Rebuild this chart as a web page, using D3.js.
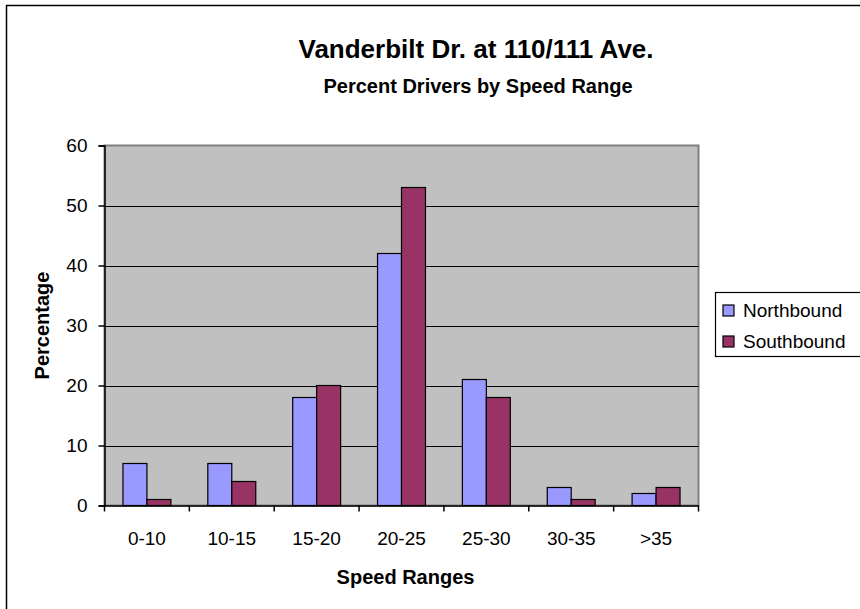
<!DOCTYPE html>
<html>
<head>
<meta charset="utf-8">
<script src="https://cdn.jsdelivr.net/npm/d3@7"></script>
<style>
  body { margin: 0; background: #fff; }
  svg { font-family: "Liberation Sans", Arial, sans-serif; }
</style>
</head>
<body>
<script>
// chart data
var speedRanges = ["0-10", "10-15", "15-20", "20-25", "25-30", "30-35", ">35"];
var seriesNames = ["Northbound", "Southbound"];
var northbound = [7, 7, 18, 42, 21, 3, 2];
var southbound = [1, 4, 20, 53, 18, 1, 3];
var yTicks = [0, 10, 20, 30, 40, 50, 60];

var colors = { Northbound: "#9999FF", Southbound: "#993366" };

var svgWidth = 860;
var svgHeight = 609;

// plot area
var plot = { left: 104.5, top: 145.5, right: 698.5, bottom: 505.5 };

var svg = d3.select("body")
  .append("svg")
  .attr("width", svgWidth)
  .attr("height", svgHeight);

// outer chart border (cut off on the right and bottom)
svg.append("rect")
  .attr("x", 6.5).attr("y", 5.5)
  .attr("width", 1000).attr("height", 1000)
  .attr("fill", "#fff")
  .attr("stroke", "#000")
  .attr("stroke-width", 1.5);

// titles
svg.append("text")
  .attr("x", 476).attr("y", 58)
  .attr("text-anchor", "middle")
  .style("font-size", "26px").style("font-weight", "bold")
  .text("Vanderbilt Dr. at 110/111 Ave.");

svg.append("text")
  .attr("x", 478).attr("y", 93)
  .attr("text-anchor", "middle")
  .style("font-size", "20px").style("font-weight", "bold")
  .text("Percent Drivers by Speed Range");

var xScale = d3.scaleBand()
  .domain(speedRanges)
  .range([plot.left, plot.right])
  .padding(0);

var xInner = d3.scaleBand()
  .domain(seriesNames)
  .range([0, xScale.bandwidth()])
  .paddingInner(0)
  .paddingOuter(0.77);

var yScale = d3.scaleLinear()
  .domain([0, 60])
  .range([plot.bottom, plot.top]);

// plot background
svg.append("rect")
  .attr("x", plot.left).attr("y", plot.top)
  .attr("width", plot.right - plot.left)
  .attr("height", plot.bottom - plot.top)
  .attr("fill", "#C0C0C0")
  .attr("stroke", "#808080")
  .attr("stroke-width", 2);

// gridlines
svg.append("g")
  .selectAll("line")
  .data(yTicks.filter(d => d > 0 && d < 60))
  .enter()
  .append("line")
  .attr("x1", plot.left).attr("x2", plot.right)
  .attr("y1", d => Math.round(yScale(d)) + 0.5)
  .attr("y2", d => Math.round(yScale(d)) + 0.5)
  .attr("stroke", "#000")
  .attr("stroke-width", 1.2);

// bars
var rows = speedRanges.map(function(r, i) {
  return { range: r, Northbound: northbound[i], Southbound: southbound[i] };
});

svg.append("g")
  .selectAll("g")
  .data(rows)
  .enter()
  .append("g")
  .attr("transform", d => `translate(${xScale(d.range)},0)`)
  .selectAll("rect")
  .data(d => seriesNames.map(s => ({ key: s, value: d[s] })))
  .enter()
  .append("rect")
  .attr("x", d => xInner(d.key))
  .attr("y", d => yScale(d.value))
  .attr("width", xInner.bandwidth())
  .attr("height", d => yScale(0) - yScale(d.value))
  .attr("fill", d => colors[d.key])
  .attr("stroke", "#000")
  .attr("stroke-width", 1.2);

// y axis
var leftAxis = d3.axisLeft(yScale)
  .tickValues(yTicks)
  .tickSize(6)
  .tickPadding(11);

var yAxisG = svg.append("g")
  .attr("transform", `translate(${plot.left},0)`)
  .call(leftAxis);
yAxisG.selectAll("text")
  .style("font-size", "19px")
  .attr("fill", "#000");
yAxisG.selectAll("line, path").attr("stroke", "#000").attr("stroke-width", 1.5);

// x axis labels
var bottomAxis = d3.axisBottom(xScale)
  .tickSize(0)
  .tickPadding(26);

var xAxisG = svg.append("g")
  .attr("transform", `translate(0,${plot.bottom})`)
  .call(bottomAxis);
xAxisG.selectAll("text")
  .style("font-size", "19px")
  .attr("fill", "#000");
xAxisG.select(".domain").attr("stroke", "#000").attr("stroke-width", 1.5);

// x tick marks at category boundaries
var boundaries = speedRanges.map(d => xScale(d)).concat([plot.right]);
xAxisG.selectAll(".bound")
  .data(boundaries)
  .enter()
  .append("line")
  .attr("class", "bound")
  .attr("x1", d => d).attr("x2", d => d)
  .attr("y1", 0).attr("y2", 6)
  .attr("stroke", "#000")
  .attr("stroke-width", 1.5);

// axis titles
svg.append("text")
  .attr("transform", `translate(49,${(plot.top + plot.bottom) / 2}) rotate(-90)`)
  .attr("text-anchor", "middle")
  .style("font-size", "20px").style("font-weight", "bold")
  .text("Percentage");

svg.append("text")
  .attr("x", (plot.left + plot.right) / 2 + 4)
  .attr("y", 584)
  .attr("text-anchor", "middle")
  .style("font-size", "20px").style("font-weight", "bold")
  .text("Speed Ranges");

// legend
var legend = svg.append("g");
legend.append("rect")
  .attr("x", 715.5).attr("y", 292.5)
  .attr("width", 200).attr("height", 64)
  .attr("fill", "#fff")
  .attr("stroke", "#000")
  .attr("stroke-width", 1.2);

var legendItems = legend.selectAll(".item")
  .data(seriesNames)
  .enter()
  .append("g")
  .attr("class", "item")
  .attr("transform", (d, i) => `translate(723,${305 + i * 31})`);

legendItems.append("rect")
  .attr("width", 11).attr("height", 11)
  .attr("fill", d => colors[d])
  .attr("stroke", "#000")
  .attr("stroke-width", 1.2);

legendItems.append("text")
  .attr("x", 20).attr("y", 12)
  .style("font-size", "19px")
  .text(d => d);
</script>
</body>
</html>
